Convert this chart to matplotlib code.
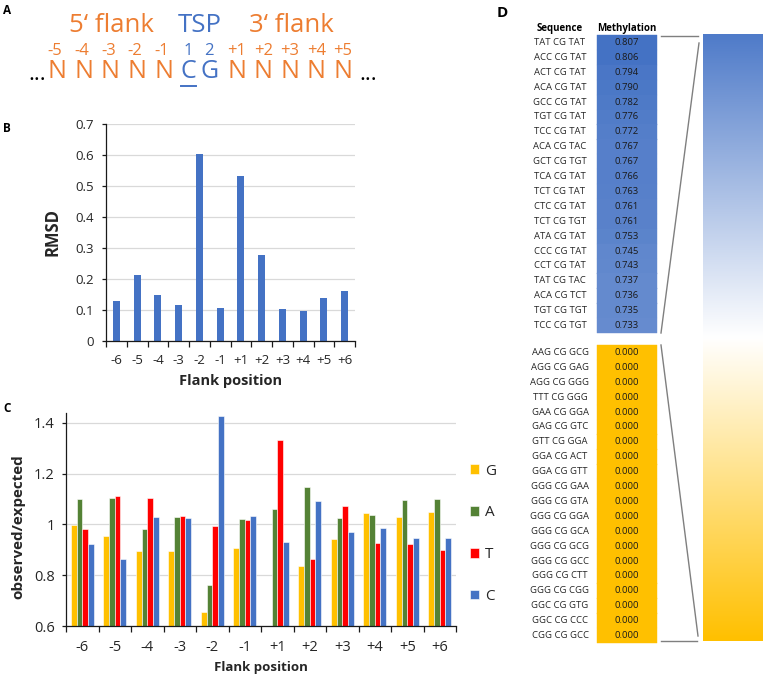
import matplotlib
matplotlib.use("Agg")
import matplotlib.pyplot as plt
import numpy as np
from matplotlib.colors import LinearSegmentedColormap, TwoSlopeNorm
from matplotlib.patches import Rectangle

plt.rcParams["font.family"] = ["Open Sans", "DejaVu Sans"]

W, H = 764, 679

# ---- data ----
positions = ["-6", "-5", "-4", "-3", "-2", "-1", "+1", "+2", "+3", "+4", "+5", "+6"]
rmsd = [0.128, 0.214, 0.150, 0.117, 0.604, 0.105, 0.533, 0.276, 0.103, 0.098, 0.140, 0.162]

bases = ["G", "A", "T", "C"]
obs_G = [0.997, 0.955, 0.896, 0.896, 0.656, 0.908, 0.55, 0.835, 0.941, 1.044, 1.027, 1.048]
obs_A = [1.100, 1.102, 0.981, 1.027, 0.760, 1.022, 1.062, 1.147, 1.025, 1.037, 1.096, 1.100]
obs_T = [0.980, 1.111, 1.102, 1.031, 0.993, 1.016, 1.333, 0.863, 1.072, 0.925, 0.922, 0.899]
obs_C = [0.922, 0.863, 1.027, 1.025, 1.426, 1.031, 0.930, 1.091, 0.971, 0.984, 0.945, 0.947]

top_seqs = ["TAT CG TAT", "ACC CG TAT", "ACT CG TAT", "ACA CG TAT", "GCC CG TAT",
            "TGT CG TAT", "TCC CG TAT", "ACA CG TAC", "GCT CG TGT", "TCA CG TAT",
            "TCT CG TAT", "CTC CG TAT", "TCT CG TGT", "ATA CG TAT", "CCC CG TAT",
            "CCT CG TAT", "TAT CG TAC", "ACA CG TCT", "TGT CG TGT", "TCC CG TGT"]
top_meth = [0.807, 0.806, 0.794, 0.790, 0.782, 0.776, 0.772, 0.767, 0.767, 0.766,
            0.763, 0.761, 0.761, 0.753, 0.745, 0.743, 0.737, 0.736, 0.735, 0.733]
bottom_seqs = ["AAG CG GCG", "AGG CG GAG", "AGG CG GGG", "TTT CG GGG", "GAA CG GGA",
               "GAG CG GTC", "GTT CG GGA", "GGA CG ACT", "GGA CG GTT", "GGG CG GAA",
               "GGG CG GTA", "GGG CG GGA", "GGG CG GCA", "GGG CG GCG", "GGG CG GCC",
               "GGG CG CTT", "GGG CG CGG", "GGC CG GTG", "GGC CG CCC", "CGG CG GCC"]
bottom_meth = [0.0] * 20

flank5 = ["-5", "-4", "-3", "-2", "-1"]
flank3 = ["+1", "+2", "+3", "+4", "+5"]

ORANGE = "#ED7D31"
BLUE = "#4472C4"
base_colors = ["#FFC000", "#548235", "#FF0000", "#4472C4"]
TXT = "#262626"
GRID = "#D9D9D9"

fig = plt.figure(figsize=(W / 100, H / 100), dpi=100)


def rect(l, t, r, b):
    return [l / W, 1 - b / H, (r - l) / W, (b - t) / H]


def style_axis(ax):
    for s in ["top", "right"]:
        ax.spines[s].set_visible(False)
    for s in ["left", "bottom"]:
        ax.spines[s].set_color("#1a1a1a")
        ax.spines[s].set_linewidth(0.9)
    ax.set_axisbelow(True)
    ax.yaxis.grid(True, color=GRID, lw=0.9)
    n = len(positions)
    ax.set_xlim(-0.5, n - 0.5)
    ax.set_xticks(np.arange(n))
    ax.set_xticklabels(positions)
    ax.set_xticks(np.arange(n + 1) - 0.5, minor=True)
    ax.tick_params(axis="x", which="major", length=0, colors=TXT)
    ax.tick_params(axis="x", which="minor", length=4, width=0.9, color="#1a1a1a")
    ax.tick_params(axis="y", length=3, width=0.9, color="#1a1a1a", labelcolor=TXT)


# ---- panel B ----
axB = fig.add_axes(rect(106, 124, 355, 341))
style_axis(axB)
x = np.arange(len(positions))
axB.bar(x, rmsd, width=0.33, color=BLUE)
axB.set_ylim(0, 0.7)
axB.set_yticks(np.arange(0, 0.71, 0.1))
axB.set_yticklabels(["0", "0.1", "0.2", "0.3", "0.4", "0.5", "0.6", "0.7"])
axB.tick_params(axis="y", labelsize=9.5, pad=6)
axB.tick_params(axis="x", labelsize=9.5, pad=9)
axB.set_ylabel("RMSD", fontsize=12, fontweight="bold", color=TXT)
axB.yaxis.set_label_coords(-0.177, 0.5)
axB.set_xlabel("Flank position", fontsize=10.5, fontweight="bold", color=TXT)
axB.xaxis.set_label_coords(0.5, -0.15)

# ---- panel C ----
axC = fig.add_axes(rect(66, 412.5, 456, 626))
style_axis(axC)
obs = [obs_G, obs_A, obs_T, obs_C]
bw = 0.175
for k, (b, vals) in enumerate(zip(bases, obs)):
    axC.bar(x + (k - 1.5) * bw, vals, width=bw, color=base_colors[k],
            edgecolor="white", linewidth=0.4, label=b)
axC.set_ylim(0.6, 1.44)
axC.set_yticks([0.6, 0.8, 1.0, 1.2, 1.4])
axC.set_yticklabels(["0.6", "0.8", "1", "1.2", "1.4"])
axC.tick_params(axis="y", labelsize=10.5, pad=5)
axC.tick_params(axis="x", labelsize=10.5, pad=10)
axC.set_ylabel("observed/expected", fontsize=11, fontweight="bold", color=TXT)
axC.yaxis.set_label_coords(-0.105, 0.464)
axC.set_xlabel("Flank position", fontsize=9.5, fontweight="bold", color=TXT)
axC.xaxis.set_label_coords(0.5, -0.165)
leg = axC.legend(loc="upper left", bbox_to_anchor=(462 / W, 1 - 456 / H),
                 bbox_transform=fig.transFigure, frameon=False, fontsize=11,
                 handlelength=0.6, handleheight=0.6, handletextpad=0.4,
                 labelspacing=1.75, borderpad=0)
for t in leg.get_texts():
    t.set_color(TXT)

# ---- overlay in pixel coords: panel A, D and labels ----
ov = fig.add_axes([0, 0, 1, 1])
ov.set_xlim(0, W)
ov.set_ylim(H, 0)
ov.axis("off")
ov.set_zorder(-1)

for lab, (lx, ly) in zip("ABC", [(3, 10), (3, 128), (3, 408)]):
    ov.text(lx, ly, lab, fontsize=8.5, fontweight="bold", color="black",
            ha="left", va="center")
ov.text(497, 13, "D", fontsize=11, fontweight="bold", color="black",
        ha="left", va="center")

# panel A sequence diagram
ov.text(111, 25, "5\u2018 flank", fontsize=18.5, color=ORANGE, ha="center", va="center")
ov.text(200, 25, "TSP", fontsize=18.5, color=BLUE, ha="center", va="center")
ov.text(291, 25, "3\u2018 flank", fontsize=18.5, color=ORANGE, ha="center", va="center")
for i, lab in enumerate(flank5):
    xc = 55 + 26.7 * i
    ov.text(xc, 51, lab, fontsize=12, color=ORANGE, ha="center", va="center")
    ov.text(xc + 2, 72, "N", fontsize=18, color=ORANGE, ha="center", va="center")
for i, lab in enumerate(flank3):
    xc = 237 + 26.4 * i
    ov.text(xc, 51, lab, fontsize=12, color=ORANGE, ha="center", va="center")
    ov.text(xc, 72, "N", fontsize=18, color=ORANGE, ha="center", va="center")
ov.text(188, 51, "1", fontsize=12, color=BLUE, ha="center", va="center")
ov.text(209, 51, "2", fontsize=12, color=BLUE, ha="center", va="center")
ov.text(188, 72, "C", fontsize=18, color=BLUE, ha="center", va="center")
ov.text(210, 72, "G", fontsize=18, color=BLUE, ha="center", va="center")
ov.plot([181, 196], [86, 86], color=BLUE, lw=1.4)
ov.text(37, 75, "...", fontsize=16, color="black", ha="center", va="center")
ov.text(368, 75, "...", fontsize=16, color="black", ha="center", va="center")

# panel D table
cmap = LinearSegmentedColormap.from_list("meth", ["#FFC000", "#FFFFFF", BLUE])
norm = TwoSlopeNorm(vmin=0.0, vcenter=0.4, vmax=max(top_meth))
row_h = 14.9
seq_x, val_x = 560, 627
box_l, box_r = 597, 657
ov.text(seq_x, 29, "Sequence", fontsize=7, fontweight="bold", color="black",
        ha="center", va="center")
ov.text(val_x, 29, "Methylation", fontsize=7, fontweight="bold", color="black",
        ha="center", va="center")


def draw_block(seqs, vals, top):
    for i, (s, v) in enumerate(zip(seqs, vals)):
        y0 = top + i * row_h
        c = cmap(norm(v))
        ov.add_patch(Rectangle((box_l, y0), box_r - box_l, row_h + 0.3,
                               facecolor=c, edgecolor=c, lw=0.3))
        ov.text(seq_x, y0 + row_h / 2, s, fontsize=6.8, color=TXT,
                ha="center", va="center")
        ov.text(val_x, y0 + row_h / 2, f"{v:.3f}", fontsize=6.8, color="#1a1a1a",
                ha="center", va="center")


draw_block(top_seqs, top_meth, 35)
draw_block(bottom_seqs, bottom_meth, 345)

# gradient bar
grad = np.linspace(1, 0, 256).reshape(-1, 1)
ov.imshow(grad, cmap=LinearSegmentedColormap.from_list("g", ["#FFC000", "#FFFFFF", "#4F7BC9"]),
          extent=[703, 763, 641, 34], aspect="auto", interpolation="bilinear", zorder=1)
ov.set_xlim(0, W)
ov.set_ylim(H, 0)

# connector lines
lc = "#7F7F7F"
ov.plot([661, 698], [36, 36], color=lc, lw=1)
ov.plot([699, 661], [43, 333], color=lc, lw=1)
ov.plot([661, 698], [345, 636], color=lc, lw=1)
ov.plot([661, 697], [641, 641], color=lc, lw=1)

fig.savefig("out.png", dpi=100)
